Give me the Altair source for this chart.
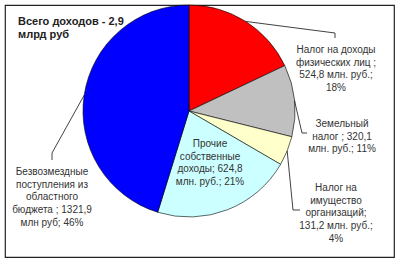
import math
import altair as alt
import pandas as pd

# Budget revenue structure, million roubles
categories = [
    "НДФЛ",
    "Земельный налог",
    "Налог на имущество организаций",
    "Прочие собственные доходы",
    "Безвозмездные поступления",
]
values = [524.8, 320.1, 131.2, 624.8, 1321.9]
percents = [18, 11, 4, 21, 46]
colors = ["#FF0000", "#C0C0C0", "#FFFFCC", "#CCFFFF", "#0000FF"]
label_templates = [
    "Налог на доходы\nфизических лиц ;\n{v} млн. руб.;\n{p}%",
    "Земельный\nналог ; {v}\nмлн. руб.; {p}%",
    "Налог на\nимущество\nорганизаций;\n{v} млн. руб.;\n{p}%",
    "Прочие\nсобственные\nдоходы; {v}\nмлн. руб.; {p}%",
    "Безвозмездные\nпоступления из\nобластного\nбюджета ; {v}\nмлн руб; {p}%",
]
title_text = "Всего доходов - 2,9\nмлрд руб"

# Layout (pixels inside the framed area)
W, H = 389, 252
CX, CY, R = 184, 106, 106
label_pos = [(331, 40), (337, 114), (331, 178), (205, 134), (47, 162)]
leader_bends = [
    [(330, 28), (330, 33)],
    [(297, 128), (302, 128)],
    [(288, 205), (295, 205)],
    None,
    [(47, 148), (47, 155)],
]
FONT = "Liberation Sans"

pie_df = pd.DataFrame({"cat": categories, "value": values, "idx": range(len(values))})

# Leader lines start at the rim, at the middle angle of each slice
total = sum(values)
rows = []
cum = 0.0
for i, v in enumerate(values):
    mid = (cum + v / 2) / total * 2 * math.pi
    cum += v
    if leader_bends[i] is None:
        continue
    pts = [(CX + R * math.sin(mid), CY - R * math.cos(mid))] + leader_bends[i]
    for k, (px, py) in enumerate(pts):
        rows.append({"cat": categories[i], "seq": k, "px": px, "py": py})
leader_df = pd.DataFrame(rows)

label_df = pd.DataFrame({
    "cat": categories,
    "text": [
        t.format(v=f"{v:.1f}".replace(".", ","), p=p)
        for t, v, p in zip(label_templates, values, percents)
    ],
    "px": [p[0] for p in label_pos],
    "py": [p[1] for p in label_pos],
})

xs = alt.Scale(domain=[0, W], range=[0, W])
ys = alt.Scale(domain=[0, H], range=[0, H])

pie = alt.Chart(pie_df).mark_arc(radius=R, stroke="#000", strokeWidth=0.6).encode(
    theta=alt.Theta("value:Q", stack=True),
    color=alt.Color("cat:N", scale=alt.Scale(domain=categories, range=colors), legend=None),
    order=alt.Order("idx:Q"),
    x=alt.value(CX),
    y=alt.value(CY),
)

leaders = alt.Chart(leader_df).mark_line(color="#111", strokeWidth=0.8).encode(
    x=alt.X("px:Q", scale=xs, axis=None),
    y=alt.Y("py:Q", scale=ys, axis=None),
    detail="cat:N",
    order="seq:Q",
)

labels = alt.Chart(label_df).mark_text(
    font=FONT, fontSize=10, color="#333", align="center", baseline="top",
    lineBreak="\n", lineHeight=12.7,
).encode(
    x=alt.X("px:Q", scale=xs, axis=None),
    y=alt.Y("py:Q", scale=ys, axis=None),
    text="text:N",
)

title = alt.Chart(pd.DataFrame({"t": [title_text]})).mark_text(
    font=FONT, fontSize=11, fontWeight="bold", color="#222", align="left",
    baseline="top", lineBreak="\n", lineHeight=13,
).encode(x=alt.value(13), y=alt.value(11), text="t:N")

chart = (
    alt.layer(pie, leaders, labels, title)
    .properties(
        width=W, height=H,
        autosize=alt.AutoSizeParams(type="none"),
        padding={"left": 5, "top": 5, "right": 6, "bottom": 5},
        background="white",
    )
    .configure_view(stroke="#222", strokeWidth=1.2)
)

chart.save("out.html", embed_options={"renderer": "svg", "actions": False})
